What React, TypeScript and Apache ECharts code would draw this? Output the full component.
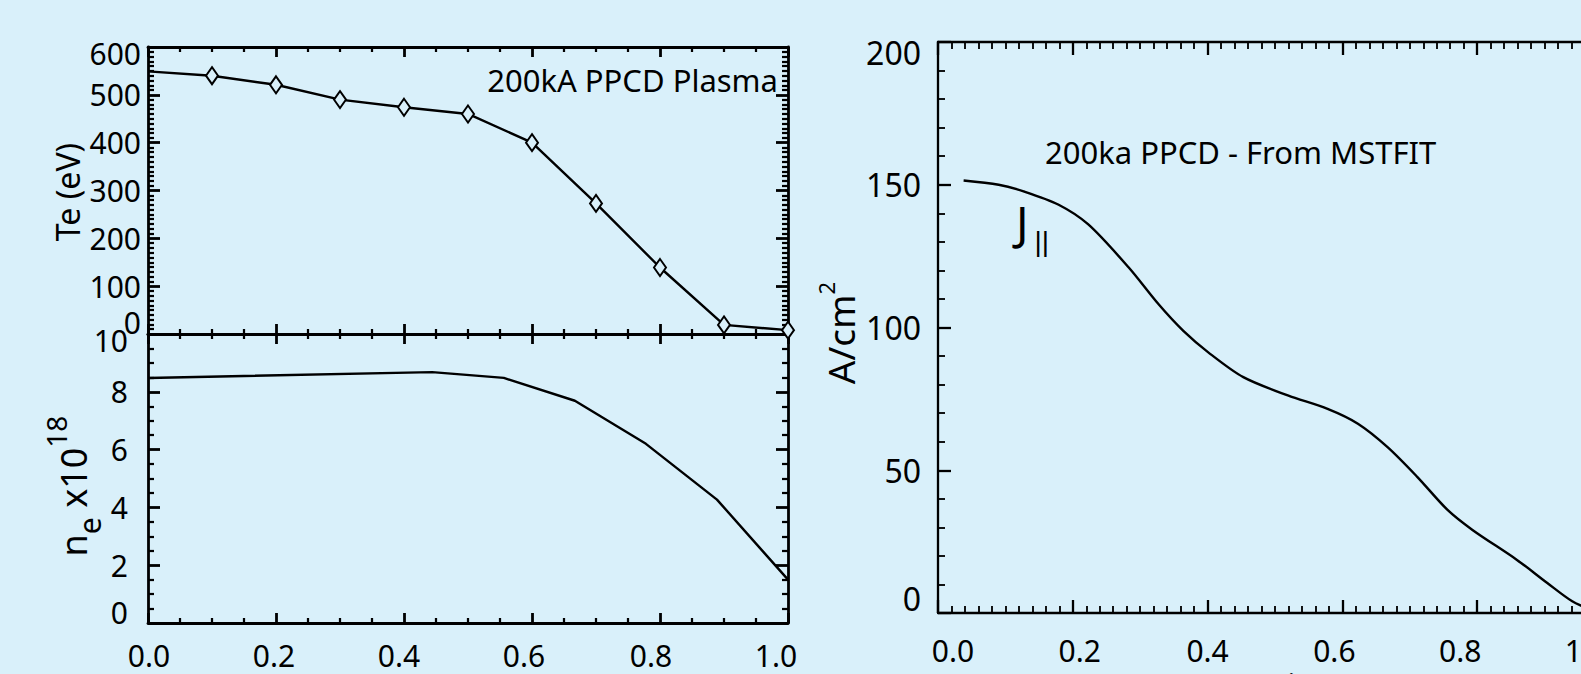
import React, { useEffect, useRef } from "react";
import * as echarts from "echarts";

// ---- data ----
const teX = [0, 0.1, 0.2, 0.3, 0.4, 0.5, 0.6, 0.7, 0.8, 0.9, 1.0];
const teY = [549, 540, 521, 490, 474, 460, 400, 273, 139, 19, 8];

const neX = [0, 0.444, 0.556, 0.667, 0.778, 0.889, 1.0];
const neY = [8.48, 8.68, 8.48, 7.69, 6.2, 4.27, 1.5];

const jX = [0.038, 0.09, 0.127, 0.179, 0.223, 0.283, 0.327, 0.364, 0.401, 0.453, 0.519, 0.578, 0.623, 0.667, 0.711, 0.756, 0.793, 0.859, 0.904, 0.941, 0.97];
const jY = [151.5, 150.0, 147.7, 143.0, 136.1, 121.0, 108.2, 98.8, 91.3, 82.6, 76.2, 71.5, 66.3, 58.1, 47.7, 36.1, 29.1, 18.6, 10.5, 4.1, 1.0];

const psiRange = [0, 1];
const psiStep = 0.2;
const teRange = [0, 600];
const teStep = 100;
const neRange = [0, 10];
const neStep = 2;
const jRange = [0, 200];
const jStep = 50;

const leftTitle = "200kA PPCD Plasma";
const rightTitle = "200ka PPCD - From MSTFIT";
const teName = "Te (eV)";
const psiName = "Psi";

// ---- style ----
const FONT = '"Noto Sans", "Open Sans", sans-serif';
const BLACK = "#000000";
const BG = "#d9f0fa";

function shifted(
  keyOf: (v: number) => string,
  text: (v: number) => string,
  shifts: Record<string, number>,
  horizontal: boolean,
  font: number
) {
  const rich: any = {};
  for (const k in shifts) {
    const d = shifts[k];
    rich[k] = {
      fontSize: font,
      fontFamily: FONT,
      color: BLACK,
      padding: horizontal
        ? d >= 0 ? [0, 0, 0, 2 * d] : [0, -2 * d, 0, 0]
        : d >= 0 ? [2 * d, 0, 0, 0] : [0, 0, -2 * d, 0],
    };
  }
  return {
    formatter: (v: number) => {
      const k = keyOf(v);
      return shifts[k] !== undefined ? `{${k}|${text(v)}}` : text(v);
    },
    rich,
  };
}

function xAxisDef(grid: number, pos: string, opts: any) {
  const lw = opts.lw ?? 2.8;
  return {
    type: "value",
    gridIndex: grid,
    position: pos,
    min: psiRange[0],
    max: psiRange[1],
    interval: psiStep,
    axisLine: { show: true, onZero: false, lineStyle: { color: BLACK, width: lw } },
    axisTick: { show: true, inside: true, length: opts.major, lineStyle: { color: BLACK, width: lw } },
    minorTick: { show: true, splitNumber: opts.minorSplit, length: opts.minor, lineStyle: { color: BLACK, width: lw * 0.8 } },
    splitLine: { show: false },
    minorSplitLine: { show: false },
    axisLabel: opts.label ? opts.label : { show: false },
    name: opts.name,
    nameLocation: "middle",
    nameGap: opts.nameGap,
    nameTextStyle: { fontFamily: FONT, fontSize: 30, color: BLACK },
  };
}

function yAxisDef(grid: number, pos: string, range: number[], step: number, opts: any) {
  const lw = opts.lw ?? 2.8;
  return {
    type: "value",
    gridIndex: grid,
    position: pos,
    min: range[0],
    max: range[1],
    interval: step,
    axisLine: { show: true, onZero: false, lineStyle: { color: BLACK, width: lw } },
    axisTick: { show: true, inside: true, length: opts.major, lineStyle: { color: BLACK, width: lw } },
    minorTick: { show: true, splitNumber: opts.minorSplit, length: opts.minor, lineStyle: { color: BLACK, width: lw * 0.8 } },
    splitLine: { show: false },
    minorSplitLine: { show: false },
    axisLabel: opts.label ? opts.label : { show: false },
  };
}

export default function App() {
  const ref = useRef<HTMLDivElement>(null);

  useEffect(() => {
    if (!ref.current) return;
    const chart = echarts.init(ref.current, undefined, { renderer: "svg" });

    const fx = (v: number) => v.toFixed(1);
    const kx = (v: number) => "s" + Math.round(v * 5);
    const ky = (v: number) => "v" + Math.round(v);

    const leftXLabel = {
      show: true,
      margin: 17,
      fontFamily: FONT,
      fontSize: 30,
      color: BLACK,
      ...shifted(kx, fx, { s0: 1, s1: -2, s2: -5, s3: -8, s4: -9, s5: -12 }, true, 30),
    };
    const rightXLabel = {
      show: true,
      margin: 22,
      fontFamily: FONT,
      fontSize: 30,
      color: BLACK,
      ...shifted(kx, fx, { s0: 15, s1: 7, s2: 0, s3: -8, s4: -17, s5: -26 }, true, 30),
    };
    const teLabel = {
      show: true,
      margin: 7,
      fontFamily: FONT,
      fontSize: 30,
      color: BLACK,
      ...shifted(ky, (v) => String(v), { v600: 6, v0: -12 }, false, 30),
    };
    const neLabel = {
      show: true,
      margin: 20,
      fontFamily: FONT,
      fontSize: 30,
      color: BLACK,
      ...shifted(ky, (v) => String(v), { v10: 6, v0: -11 }, false, 30),
    };
    const jLabel = {
      show: true,
      margin: 17,
      fontFamily: FONT,
      fontSize: 32,
      color: BLACK,
      ...shifted(ky, (v) => String(v), { v200: 10, v0: -15 }, false, 32),
    };

    const teData = teX.map((x, i) => ({
      value: [x, teY[i]],
      symbol: i === 0 ? "none" : "diamond",
    }));

    const gridBase = { containLabel: false, outerBoundsMode: "none" };

    const option: any = {
      animation: false,
      backgroundColor: BG,
      grid: [
        { ...gridBase, left: 148, top: 47, width: 640, height: 287 },
        { ...gridBase, left: 148, top: 334, width: 640, height: 289 },
        { ...gridBase, left: 938, top: 42, width: 674, height: 571 },
      ],
      xAxis: [
        xAxisDef(0, "bottom", { major: 10, minor: 5, minorSplit: 4 }),
        xAxisDef(0, "top", { major: 10, minor: 5, minorSplit: 4 }),
        xAxisDef(1, "bottom", { major: 10, minor: 5, minorSplit: 4, label: leftXLabel }),
        xAxisDef(1, "top", { major: 10, minor: 5, minorSplit: 4 }),
        xAxisDef(2, "bottom", { major: 13, minor: 7, minorSplit: 10, lw: 2.3, label: rightXLabel, name: psiName, nameGap: 55 }),
        xAxisDef(2, "top", { major: 13, minor: 7, minorSplit: 10, lw: 2.3 }),
      ],
      yAxis: [
        yAxisDef(0, "left", teRange, teStep, { major: 12, minor: 6, minorSplit: 10, label: teLabel }),
        yAxisDef(0, "right", teRange, teStep, { major: 12, minor: 6, minorSplit: 10 }),
        yAxisDef(1, "left", neRange, neStep, { major: 12, minor: 6, minorSplit: 4, label: neLabel }),
        yAxisDef(1, "right", neRange, neStep, { major: 12, minor: 6, minorSplit: 4 }),
        yAxisDef(2, "left", jRange, jStep, { major: 13, minor: 7, minorSplit: 5, lw: 2.3, label: jLabel }),
      ],
      series: [
        {
          type: "line",
          name: "Te",
          xAxisIndex: 0,
          yAxisIndex: 0,
          data: teData,
          symbol: "diamond",
          symbolSize: [12, 17],
          showSymbol: true,
          itemStyle: { color: BG, borderColor: BLACK, borderWidth: 2 },
          lineStyle: { color: BLACK, width: 2.4 },
          z: 3,
        },
        {
          type: "line",
          name: "ne",
          xAxisIndex: 2,
          yAxisIndex: 2,
          data: neX.map((x, i) => [x, neY[i]]),
          showSymbol: false,
          symbol: "none",
          lineStyle: { color: BLACK, width: 2.4 },
        },
        {
          type: "line",
          name: "J",
          xAxisIndex: 4,
          yAxisIndex: 4,
          data: jX.map((x, i) => [x, jY[i]]),
          showSymbol: false,
          symbol: "none",
          smooth: 0.3,
          lineStyle: { color: BLACK, width: 2.4 },
        },
      ],
      graphic: [
        {
          type: "text",
          x: 778,
          y: 80,
          style: {
            text: leftTitle,
            fontFamily: FONT,
            fontSize: 31,
            fill: BLACK,
            align: "right",
            verticalAlign: "middle",
          },
        },
        {
          type: "text",
          x: 1045,
          y: 152,
          style: {
            text: rightTitle,
            fontFamily: FONT,
            fontSize: 31,
            fill: BLACK,
            align: "left",
            verticalAlign: "middle",
          },
        },
        {
          type: "text",
          x: 67,
          y: 192,
          rotation: Math.PI / 2,
          style: {
            text: teName,
            fontFamily: FONT,
            fontSize: 32,
            fill: BLACK,
            align: "center",
            verticalAlign: "middle",
          },
        },
        {
          type: "text",
          x: 73,
          y: 486,
          rotation: Math.PI / 2,
          style: {
            text: "{n|n}{e|e}{n| x10}{p|18}",
            align: "center",
            verticalAlign: "middle",
            fill: BLACK,
            fontFamily: FONT,
            rich: {
              n: { fontFamily: FONT, fontSize: 36, lineHeight: 62, verticalAlign: "middle", fill: BLACK },
              e: { fontFamily: FONT, fontSize: 30, lineHeight: 30, verticalAlign: "bottom", fill: BLACK },
              p: { fontFamily: FONT, fontSize: 28, lineHeight: 28, verticalAlign: "top", fill: BLACK },
            },
          },
        },
        {
          type: "text",
          x: 840,
          y: 333,
          rotation: Math.PI / 2,
          style: {
            text: "{m|A/cm}{p|2}",
            align: "center",
            verticalAlign: "middle",
            fill: BLACK,
            fontFamily: FONT,
            rich: {
              m: { fontFamily: FONT, fontSize: 37, lineHeight: 51, verticalAlign: "middle", fill: BLACK },
              p: { fontFamily: FONT, fontSize: 22, lineHeight: 22, verticalAlign: "top", fill: BLACK },
            },
          },
        },
        {
          type: "text",
          x: 1016,
          y: 222,
          style: {
            text: "{j|J}{s|||}",
            align: "left",
            verticalAlign: "middle",
            fill: BLACK,
            fontFamily: FONT,
            rich: {
              j: { fontFamily: FONT, fontSize: 46, lineHeight: 66, verticalAlign: "middle", fill: BLACK },
              s: { fontFamily: '"Liberation Sans", sans-serif', fontSize: 28, lineHeight: 28, verticalAlign: "bottom", fill: BLACK, padding: [0, 0, 0, 6] },
            },
          },
        },
      ],
    };

    chart.setOption(option);
    return () => chart.dispose();
  }, []);

  return (
    <div
      ref={ref}
      style={{ position: "fixed", left: 0, top: 0, width: 1581, height: 674, background: BG }}
    />
  );
}
